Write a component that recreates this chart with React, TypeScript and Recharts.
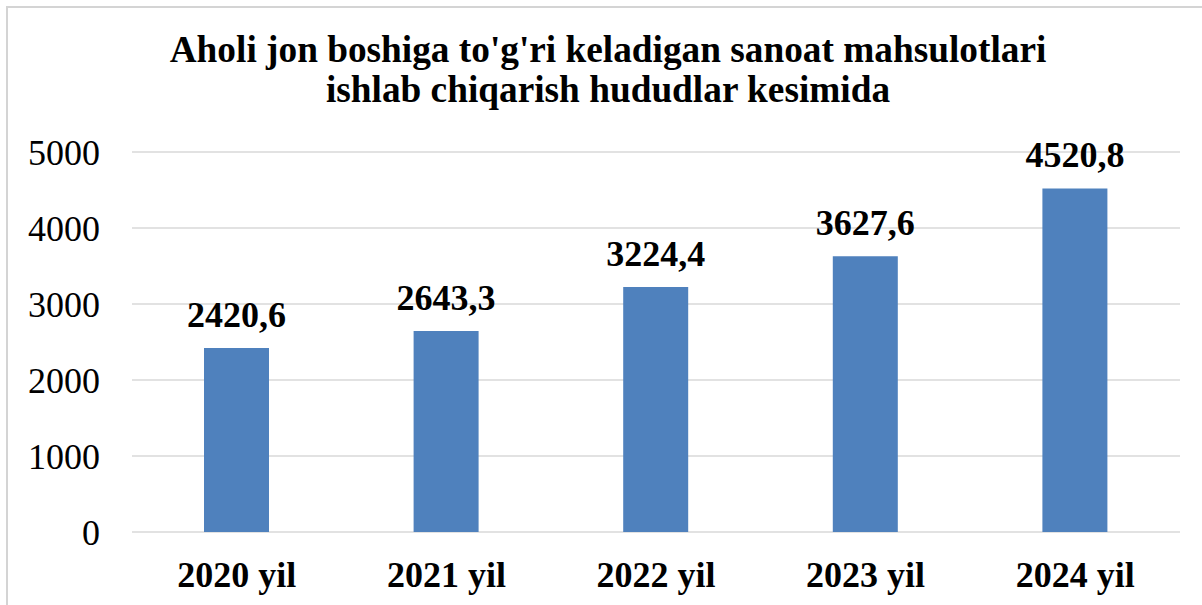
import { Bar, BarChart, CartesianGrid, LabelList, XAxis, YAxis } from "recharts";

const years = ["2020 yil", "2021 yil", "2022 yil", "2023 yil", "2024 yil"];
const values = [2420.6, 2643.3, 3224.4, 3627.6, 4520.8];
const yTicks = [0, 1000, 2000, 3000, 4000, 5000];

const data = years.map((year, i) => ({ year, value: values[i] }));

const serif = '"Liberation Serif", "Times New Roman", serif';

function YearTick({ x, y, payload }: any) {
  return (
    <text
      x={x}
      y={y + 55}
      textAnchor="middle"
      fill="#000"
      fontFamily={serif}
      fontSize={36}
      fontWeight="bold"
    >
      {payload.value}
    </text>
  );
}

export default function App() {
  return (
    <div style={{ position: "absolute", left: 0, top: 0, width: 1202, height: 605, overflow: "hidden", background: "#fff" }}>
      <div
        style={{
          position: "absolute",
          left: 6,
          top: 6,
          width: 1206,
          height: 620,
          borderLeft: "2px solid #d4d4d4",
          borderTop: "2px solid #d4d4d4",
          zIndex: 2,
          pointerEvents: "none"
        }}
      />
      <div
        style={{
          position: "absolute",
          left: 0,
          top: 30,
          width: 1216,
          textAlign: "center",
          fontFamily: serif,
          fontWeight: "bold",
          fontSize: 37.3,
          lineHeight: "40px",
          color: "#000",
          whiteSpace: "nowrap"
        }}
      >
        Aholi jon boshiga to'g'ri keladigan sanoat mahsulotlari
        <br />
        ishlab chiqarish hududlar kesimida
      </div>
      <div style={{ position: "absolute", left: 0, top: 0 }}>
        <BarChart
          width={1202}
          height={605}
          data={data}
          margin={{ top: 152, right: 22, bottom: 0, left: 0 }}
        >
          <CartesianGrid stroke="#d9d9d9" strokeWidth={1.5} vertical={false} />
          <XAxis
            dataKey="year"
            height={73}
            axisLine={false}
            tickLine={false}
            tickSize={0}
            tickMargin={0}
            tick={<YearTick />}
            interval={0}
          />
          <YAxis
            domain={[0, 5000]}
            ticks={yTicks}
            width={132}
            axisLine={false}
            tickLine={false}
            tickSize={0}
            tickMargin={32}
            tick={{ fill: "#000", fontFamily: serif, fontSize: 36 }}
          />
          <Bar dataKey="value" fill="#4f81bd" barSize={65} isAnimationActive={false}>
            <LabelList
              dataKey="value"
              position="top"
              offset={21}
              formatter={(v: any) => Number(v).toFixed(1).replace(".", ",")}
              style={{ fill: "#000", fontFamily: serif, fontSize: 36, fontWeight: "bold" }}
            />
          </Bar>
        </BarChart>
      </div>
    </div>
  );
}
